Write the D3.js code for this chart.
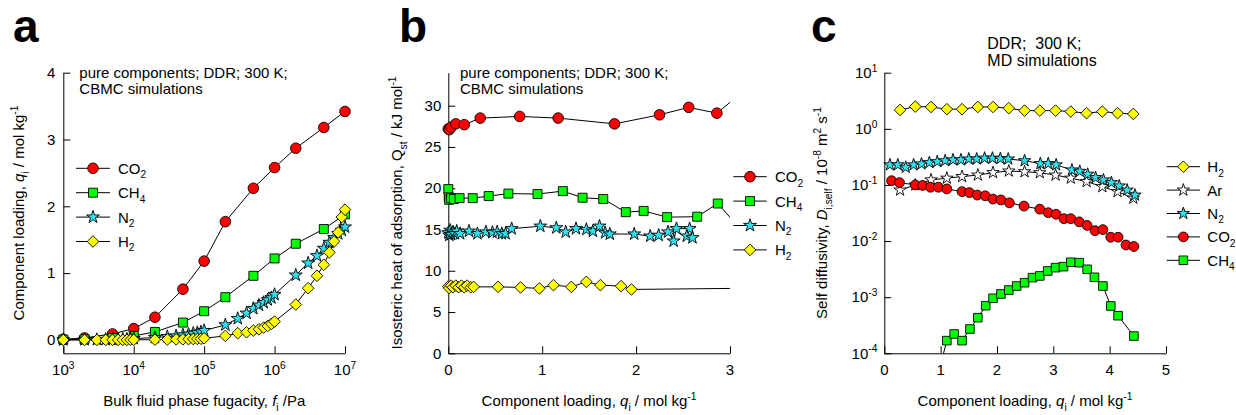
<!DOCTYPE html>
<html>
<head>
<meta charset="utf-8">
<script src="https://cdn.jsdelivr.net/npm/d3@7"></script>
<style>
  body { margin: 0; background: #fff; }
  svg text { font-family: "Liberation Sans", Arial, sans-serif; fill: #000; }
</style>
</head>
<body>
<svg id="fig" width="1236" height="415"></svg>
<script>
// ---------- Panel a: pure-component isotherms (fugacity / Pa, loading / mol kg-1) ----------
const fugA_CO2 = [1e3, 2e3, 5e3, 1e4, 2e4, 5e4, 1e5, 2e5, 5e5, 1e6, 2e6, 5e6, 1e7];
const loadA_CO2 = [0.01, 0.03, 0.09, 0.17, 0.34, 0.76, 1.18, 1.77, 2.27, 2.58, 2.87, 3.18, 3.42];
const fugA_CH4 = [1e3, 2e3, 5e3, 1e4, 2e4, 5e4, 1e5, 2e5, 5e5, 1e6, 2e6, 5e6, 1e7];
const loadA_CH4 = [0.005, 0.01, 0.03, 0.06, 0.12, 0.26, 0.43, 0.64, 0.96, 1.22, 1.44, 1.66, 1.88];
const fugA_N2 = [1e3, 2e3, 3e3, 4e3, 5e3, 6e3, 7e3, 8e3, 9e3,
                 1e4, 2e4, 3e4, 4e4, 5e4, 6e4, 7e4, 8e4, 9e4,
                 1e5, 2e5, 3e5, 4e5, 5e5, 6e5, 7e5, 8e5, 9e5,
                 1e6, 2e6, 3e6, 4e6, 5e6, 6e6, 7e6, 8e6, 9e6, 1e7];
const loadA_N2 = [0.002, 0.004, 0.005, 0.007, 0.008, 0.01, 0.011, 0.013, 0.015,
                  0.02, 0.035, 0.05, 0.06, 0.075, 0.085, 0.1, 0.11, 0.12,
                  0.14, 0.225, 0.32, 0.4, 0.47, 0.52, 0.56, 0.6, 0.63,
                  0.68, 0.97, 1.15, 1.26, 1.37, 1.46, 1.53, 1.59, 1.64, 1.69];
const fugA_H2 = fugA_N2.slice();
const loadA_H2 = [0.0002, 0.0004, 0.0006, 0.0008, 0.001, 0.0012, 0.0014, 0.0016, 0.0018,
                  0.002, 0.004, 0.006, 0.008, 0.01, 0.012, 0.014, 0.016, 0.018,
                  0.025, 0.06, 0.1, 0.115, 0.14, 0.16, 0.185, 0.21, 0.24,
                  0.275, 0.53, 0.775, 0.96, 1.125, 1.31, 1.475, 1.61, 1.84, 1.95];

// ---------- Panel b: isosteric heats of adsorption (kJ mol-1) vs loading ----------
const qB_CO2 = [0.0, 0.01, 0.03, 0.08, 0.17, 0.34, 0.76, 1.17, 1.77, 2.25, 2.56, 2.86, 3.15];
const QB_CO2 = [27.2, 27.1, 27.4, 27.8, 27.7, 28.5, 28.7, 28.5, 27.8, 28.9, 29.8, 29.1, 31.8];
const qB_CH4 = [0.0, 0.005, 0.01, 0.03, 0.06, 0.12, 0.26, 0.43, 0.64, 0.95, 1.22, 1.43, 1.65,
                1.89, 2.08, 2.33, 2.65, 2.87, 3.1];
const QB_CH4 = [19.9, 18.9, 18.6, 18.8, 18.7, 18.8, 18.8, 19.05, 19.35, 19.3, 19.65, 18.85, 18.7,
                17.1, 17.25, 16.5, 16.55, 18.15, 15.2];
const qB_N2 = [0.0, 0.01, 0.02, 0.03, 0.05, 0.07, 0.09, 0.125, 0.22, 0.31, 0.40, 0.47, 0.52, 0.57,
               0.61, 0.675, 0.98, 1.15, 1.25, 1.36, 1.47, 1.54, 1.61, 1.67, 1.72, 1.98, 2.15,
               2.24, 2.34, 2.40, 2.43, 2.57, 2.54, 2.60];
const QB_N2 = [14.6, 14.3, 14.9, 14.4, 14.7, 14.5, 14.8, 14.5, 14.8, 14.5, 14.7, 14.65, 14.7, 14.5,
               14.5, 15.1, 15.4, 15.2, 14.7, 15.1, 15.0, 14.8, 15.4, 14.6, 14.45, 14.45, 14.2,
               14.3, 14.7, 13.6, 15.1, 15.1, 14.2, 14.0];
const qB_H2 = [0.0, 0.01, 0.03, 0.05, 0.08, 0.11, 0.14, 0.17, 0.2, 0.24, 0.27, 0.53, 0.77, 0.97,
               1.12, 1.31, 1.47, 1.62, 1.84, 1.95, 3.6];
const QB_H2 = [8.1, 7.9, 8.2, 8.0, 8.2, 8.0, 8.2, 8.0, 8.2, 8.0, 8.05, 8.05, 7.98, 7.86,
               8.26, 8.05, 8.66, 8.26, 8.14, 7.74, 7.93];

// ---------- Panel c: MD self-diffusivities (10^-8 m2 s-1) vs loading ----------
const qC_H2 = [0.28, 0.55, 0.83, 1.11, 1.38, 1.66, 1.93, 2.21, 2.49, 2.76, 3.04, 3.31, 3.59, 3.87, 4.14, 4.42];
const DC_H2 = [2.17, 2.49, 2.45, 2.24, 2.24, 2.45, 2.45, 2.33, 2.11, 2.11, 2.11, 2.03, 1.90, 2.03, 1.90, 1.84];
const qC_Ar = [0.28, 0.55, 0.83, 1.11, 1.38, 1.66, 1.93, 2.21, 2.49, 2.76, 3.04, 3.31, 3.59, 3.87, 4.14, 4.42];
const DC_Ar = [0.081, 0.100, 0.123, 0.132, 0.141, 0.150, 0.166, 0.177, 0.172, 0.165, 0.150, 0.132, 0.115, 0.093, 0.076, 0.058];
const qC_N2 = [0.10, 0.24, 0.38, 0.52, 0.66, 0.80, 0.94, 1.08, 1.22, 1.36, 1.50, 1.64, 1.78, 1.92, 2.06,
               2.20, 2.49, 2.77, 2.91, 3.05, 3.33, 3.47, 3.61, 3.75, 3.89, 4.03, 4.17, 4.31, 4.45];
const DC_N2 = [0.228, 0.228, 0.206, 0.228, 0.237, 0.25, 0.26, 0.27, 0.28, 0.28, 0.29, 0.29, 0.30, 0.30, 0.295,
               0.29, 0.27, 0.24, 0.24, 0.228, 0.185, 0.175, 0.155, 0.135, 0.123, 0.11, 0.096, 0.081, 0.066];
const qC_CO2 = [0.13, 0.27, 0.55, 0.68, 0.82, 0.96, 1.11, 1.38, 1.51, 1.65, 1.79, 1.93, 2.07, 2.22, 2.48,
                2.76, 2.91, 3.05, 3.19, 3.31, 3.46, 3.60, 3.74, 3.88, 4.02, 4.15, 4.29, 4.43];
const DC_CO2 = [0.119, 0.11, 0.10, 0.098, 0.091, 0.091, 0.085, 0.076, 0.073, 0.066, 0.064, 0.056, 0.054, 0.048, 0.042,
                0.037, 0.032, 0.030, 0.025, 0.025, 0.022, 0.019, 0.0153, 0.016, 0.0117, 0.0117, 0.0085, 0.008];
const qC_CH4 = [0.96, 1.11, 1.24, 1.38, 1.52, 1.66, 1.80, 1.93, 2.07, 2.21, 2.35, 2.49, 2.63, 2.76, 2.90,
                3.04, 3.18, 3.31, 3.46, 3.60, 3.73, 3.88, 4.02, 4.15, 4.43];
const DC_CH4 = [4.5e-5, 1.68e-4, 2.21e-4, 1.68e-4, 2.71e-4, 4.31e-4, 7.05e-4, 9.55e-4, 1.14e-3, 1.34e-3, 1.58e-3,
                1.81e-3, 2.23e-3, 2.39e-3, 2.93e-3, 3.36e-3, 3.5e-3, 4.19e-3, 4.12e-3, 3.14e-3, 2.26e-3,
                1.58e-3, 6.97e-4, 4.68e-4, 2.03e-4];

// ---------- Tick values and labels ----------
const ticksA_x = [1e3, 1e4, 1e5, 1e6, 1e7];
const ticksA_y = [0, 1, 2, 3, 4];
const ticksB_x = [0, 1, 2, 3];
const ticksB_y = [0, 5, 10, 15, 20, 25, 30];
const ticksC_x = [0, 1, 2, 3, 4, 5];
const ticksC_y = [1e-4, 1e-3, 1e-2, 1e-1, 1e0, 1e1];

// ---------- Styling ----------
const COL = { red: "#ff0000", green: "#00ff00", cyan: "#2fe0ee", yellow: "#ffff00", white: "#ffffff" };
const FS = 15;
const TOP = 72.7, BOT = 353.3;
const MAJ = 7, MIN = 4;

const svg = d3.select("#fig");

// Inline markup: *italic*, _{sub}, ^{sup}
function rich(textSel, str, fs) {
  const re = /(\*[^*]+\*|_\{[^}]*\}|\^\{[^}]*\})/g;
  const parts = str.split(re).filter(s => s.length);
  let shift = 0;
  parts.forEach(p => {
    let t = p, style = "n";
    if (p.startsWith("*")) { t = p.slice(1, -1); style = "i"; }
    else if (p.startsWith("_{")) { t = p.slice(2, -1); style = "sub"; }
    else if (p.startsWith("^{")) { t = p.slice(2, -1); style = "sup"; }
    const target = style === "sub" ? fs * 0.3 : style === "sup" ? -fs * 0.42 : 0;
    const ts = textSel.append("tspan").text(t).attr("dy", target - shift);
    shift = target;
    if (style === "sub" || style === "sup") ts.attr("font-size", fs * 0.68);
    if (style === "i") ts.attr("font-style", "italic");
  });
  return textSel;
}

const diamond = {
  draw(ctx, size) {
    const r = Math.sqrt(size / 2);
    ctx.moveTo(0, -r); ctx.lineTo(r, 0); ctx.lineTo(0, r); ctx.lineTo(-r, 0); ctx.closePath();
  }
};
const SHAPES = {
  circle: r => d3.symbol(d3.symbolCircle, Math.PI * r * r)(),
  square: r => d3.symbol(d3.symbolSquare, (2 * r) * (2 * r))(),
  star: r => d3.symbol(d3.symbolStar, r * r / 0.8908130915292852)(),
  diamond: r => d3.symbol(diamond, 2 * r * r)()
};

function drawMarker(g, shape, r, fill, x, y) {
  g.append("path").attr("d", SHAPES[shape](r))
    .attr("transform", `translate(${x},${y})`)
    .attr("fill", fill).attr("stroke", "#000").attr("stroke-width", 0.9);
}

// Axis helper: inward majors + minors
function axes(g, xs, ys, xMaj, xMin, yMaj, yMin, xFmt, yFmt, xPad, yPad) {
  const gx = g.append("g").attr("transform", `translate(0,${BOT})`);
  gx.call(d3.axisBottom(xs).tickValues(xMin).tickSize(-MIN).tickSizeOuter(0).tickFormat(""));
  gx.call(d3.axisBottom(xs).tickValues(xMaj).tickSize(-MAJ).tickSizeOuter(0).tickPadding(xPad).tickFormat(""));
  const gy = g.append("g").attr("transform", `translate(${xs.range()[0]},0)`);
  gy.call(d3.axisLeft(ys).tickValues(yMin).tickSize(-MIN).tickSizeOuter(0).tickFormat(""));
  gy.call(d3.axisLeft(ys).tickValues(yMaj).tickSize(-MAJ).tickSizeOuter(0).tickPadding(yPad).tickFormat(""));
  g.selectAll(".domain").attr("stroke", "#000").attr("stroke-width", 1);
  g.selectAll(".tick line").attr("stroke", "#000").attr("stroke-width", 1);
  g.selectAll("text").remove();
  // tick labels
  xMaj.forEach(v => {
    const t = g.append("text").attr("x", xs(v)).attr("y", BOT + xPad + FS * 0.71)
      .attr("text-anchor", "middle").attr("font-size", FS);
    rich(t, xFmt(v), FS);
  });
  yMaj.forEach(v => {
    const t = g.append("text").attr("x", xs.range()[0] - yPad).attr("y", ys(v) + FS * 0.35)
      .attr("text-anchor", "end").attr("font-size", FS);
    rich(t, yFmt(v), FS);
  });
}

function series(g, clipId, xs, ys, xv, yv, shape, r, fill) {
  const pts = xv.map((x, i) => [xs(x), ys(yv[i]), x, yv[i]]);
  g.append("path")
    .attr("clip-path", `url(#${clipId})`)
    .attr("d", d3.line()(pts.map(p => [p[0], p[1]])))
    .attr("fill", "none").attr("stroke", "#000").attr("stroke-width", 1);
  const xd = xs.domain(), yd = ys.domain();
  pts.forEach(p => {
    if (p[2] >= Math.min(...xd) && p[2] <= Math.max(...xd) &&
        p[3] >= Math.min(...yd) && p[3] <= Math.max(...yd)) drawMarker(g, shape, r, fill, p[0], p[1]);
  });
}

function clip(id, x0, x1) {
  svg.append("clipPath").attr("id", id).append("rect")
    .attr("x", x0).attr("y", TOP).attr("width", x1 - x0).attr("height", BOT - TOP);
}

function legend(g, x0, x1, tx, y0, dy, items) {
  items.forEach((it, i) => {
    const y = y0 + i * dy;
    g.append("line").attr("x1", x0).attr("x2", x1).attr("y1", y).attr("y2", y)
      .attr("stroke", "#000").attr("stroke-width", 1);
    drawMarker(g, it.shape, it.r, it.fill, (x0 + x1) / 2, y);
    const t = g.append("text").attr("x", tx).attr("y", y + FS * 0.36).attr("font-size", FS);
    rich(t, it.label, FS);
  });
}

function panelLetter(x, ch) {
  svg.append("text").attr("x", x).attr("y", 41.5).attr("font-size", 46)
    .attr("font-weight", "bold").text(ch);
}

function yLabel(x, yc, str) {
  const t = svg.append("text").attr("transform", `translate(${x},${yc}) rotate(-90)`)
    .attr("text-anchor", "middle").attr("font-size", FS);
  rich(t, str, FS);
}
function xLabel(xc, y, str) {
  const t = svg.append("text").attr("x", xc).attr("y", y).attr("text-anchor", "middle").attr("font-size", FS);
  rich(t, str, FS);
}
function note(x, y, lines, fs, lh) {
  lines.forEach((l, i) => svg.append("text").attr("x", x).attr("y", y + i * lh)
    .attr("font-size", fs).style("white-space", "pre").text(l));
}

const fmtPow = v => `10^{${Math.round(Math.log10(v))}}`;
const fmtNum = v => String(v);

// ================= Panel a =================
{
  const xs = d3.scaleLog().domain([1e3, 1e7]).range([63.3, 345]);
  const ys = d3.scaleLinear().domain([-0.2, 4]).range([BOT, TOP]);
  const g = svg.append("g");
  clip("clipA", 63.3, 345);
  const minX = xs.ticks().filter(v => !ticksA_x.includes(v));
  const minY = d3.range(-0.2, 4.001, 0.2).map(v => +v.toFixed(1)).filter(v => !ticksA_y.includes(v));
  axes(g, xs, ys, ticksA_x, minX, ticksA_y, minY, fmtPow, fmtNum, 11, 8);
  series(g, "clipA", xs, ys, fugA_CO2, loadA_CO2, "circle", 5.3, COL.red);
  series(g, "clipA", xs, ys, fugA_CH4, loadA_CH4, "square", 4.5, COL.green);
  series(g, "clipA", xs, ys, fugA_N2, loadA_N2, "star", 6.8, COL.cyan);
  series(g, "clipA", xs, ys, fugA_H2, loadA_H2, "diamond", 5.8, COL.yellow);
  legend(g, 76, 110, 118, 168.3, 24.4, [
    { label: "CO_{2}", shape: "circle", r: 5.3, fill: COL.red },
    { label: "CH_{4}", shape: "square", r: 4.5, fill: COL.green },
    { label: "N_{2}", shape: "star", r: 6.8, fill: COL.cyan },
    { label: "H_{2}", shape: "diamond", r: 5.8, fill: COL.yellow }
  ]);
  note(79.3, 78, ["pure components; DDR; 300 K;", "CBMC simulations"], FS, 15.5);
  panelLetter(13, "a");
  yLabel(24, 213, "Component loading, *q*_{i} / mol kg^{-1}");
  xLabel(204.2, 406, "Bulk fluid phase fugacity, *f*_{i} /Pa");
}

// ================= Panel b =================
{
  const xs = d3.scaleLinear().domain([0, 3]).range([448.3, 730]);
  const ys = d3.scaleLinear().domain([0, 34]).range([BOT, TOP]);
  const g = svg.append("g");
  clip("clipB", 448.3, 730);
  const minX = d3.range(0, 3.001, 0.2).map(v => +v.toFixed(1)).filter(v => !ticksB_x.includes(v));
  const minY = d3.range(0, 35, 1).filter(v => !ticksB_y.includes(v));
  axes(g, xs, ys, ticksB_x, minX, ticksB_y, minY, fmtNum, fmtNum, 11, 7);
  series(g, "clipB", xs, ys, qB_CO2, QB_CO2, "circle", 5.3, COL.red);
  series(g, "clipB", xs, ys, qB_CH4, QB_CH4, "square", 4.5, COL.green);
  series(g, "clipB", xs, ys, qB_N2, QB_N2, "star", 6.8, COL.cyan);
  series(g, "clipB", xs, ys, qB_H2, QB_H2, "diamond", 5.8, COL.yellow);
  legend(g, 733.3, 766.7, 775, 176.7, 24.4, [
    { label: "CO_{2}", shape: "circle", r: 5.3, fill: COL.red },
    { label: "CH_{4}", shape: "square", r: 4.5, fill: COL.green },
    { label: "N_{2}", shape: "star", r: 6.8, fill: COL.cyan },
    { label: "H_{2}", shape: "diamond", r: 5.8, fill: COL.yellow }
  ]);
  note(460, 78, ["pure components; DDR; 300 K;", "CBMC simulations"], FS, 15.5);
  panelLetter(399, "b");
  yLabel(402, 213, "Isosteric heat of adsorption, Q_{st} / kJ mol^{-1}");
  xLabel(589, 406, "Component loading, *q*_{i} / mol kg^{-1}");
}

// ================= Panel c =================
{
  const xs = d3.scaleLinear().domain([0, 5]).range([884.3, 1166]);
  const ys = d3.scaleLog().domain([1e-4, 1e1]).range([BOT, TOP]);
  const g = svg.append("g");
  clip("clipC", 884.3, 1166);
  const minX = d3.range(0, 5.001, 0.2).map(v => +v.toFixed(1)).filter(v => !ticksC_x.includes(v));
  const minY = ys.ticks().filter(v => !ticksC_y.some(t => Math.abs(t - v) / t < 1e-6));
  axes(g, xs, ys, ticksC_x, minX, ticksC_y, minY, fmtNum, fmtPow, 11, 7);
  series(g, "clipC", xs, ys, qC_H2, DC_H2, "diamond", 5.8, COL.yellow);
  series(g, "clipC", xs, ys, qC_Ar, DC_Ar, "star", 6.5, COL.white);
  series(g, "clipC", xs, ys, qC_N2, DC_N2, "star", 6.5, COL.cyan);
  series(g, "clipC", xs, ys, qC_CO2, DC_CO2, "circle", 4.9, COL.red);
  series(g, "clipC", xs, ys, qC_CH4, DC_CH4, "square", 4.3, COL.green);
  legend(g, 1166.7, 1200, 1207.3, 166.7, 23.4, [
    { label: "H_{2}", shape: "diamond", r: 5.8, fill: COL.yellow },
    { label: "Ar", shape: "star", r: 6.5, fill: COL.white },
    { label: "N_{2}", shape: "star", r: 6.5, fill: COL.cyan },
    { label: "CO_{2}", shape: "circle", r: 4.9, fill: COL.red },
    { label: "CH_{4}", shape: "square", r: 4.3, fill: COL.green }
  ]);
  note(987.3, 49, ["DDR;  300 K;", "MD simulations"], 16, 17);
  panelLetter(811, "c");
  yLabel(827, 213, "Self diffusivity, *D*_{i,self} / 10^{-8} m^{2} s^{-1}");
  xLabel(1025, 406, "Component loading, *q*_{i} / mol kg^{-1}");
}
</script>
</body>
</html>
